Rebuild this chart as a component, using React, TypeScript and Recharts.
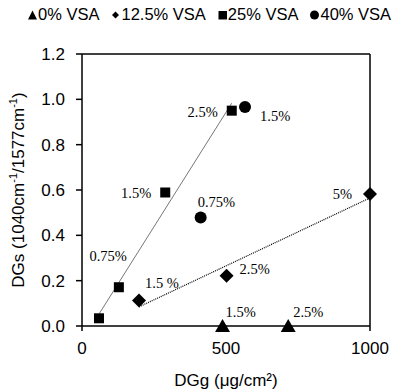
import {
  ScatterChart, Scatter, XAxis, YAxis, ReferenceLine,
} from "recharts";

// 0% VSA (triangles)
const triX = [488, 716];
const triY = [0, 0];
const triLabels = ["1.5%", "2.5%"];

// 12.5% VSA (diamonds)
const diaX = [198, 502, 1000];
const diaY = [0.112, 0.222, 0.582];
const diaLabels = ["1.5 %", "2.5%", "5%"];

// 25% VSA (squares)
const sqX = [59, 128, 289, 520];
const sqY = [0.034, 0.171, 0.589, 0.95];
const sqLabels = ["", "0.75%", "1.5%", "2.5%"];

// 40% VSA (circles)
const cirX = [412, 566];
const cirY = [0.479, 0.966];
const cirLabels = ["0.75%", "1.5%"];

const xTicks = [0, 500, 1000];
const yTicks = [0, 0.2, 0.4, 0.6, 0.8, 1.0, 1.2];

const toPoints = (xs: number[], ys: number[], labels: string[]) =>
  xs.map((x, i) => ({ x, y: ys[i], label: labels[i] }));

const triData = toPoints(triX, triY, triLabels);
const diaData = toPoints(diaX, diaY, diaLabels);
const sqData = toPoints(sqX, sqY, sqLabels);
const cirData = toPoints(cirX, cirY, cirLabels);

// least-squares trendline over a series, from its first to last x
function trend(xs: number[], ys: number[]) {
  const n = xs.length;
  const mx = xs.reduce((a, b) => a + b, 0) / n;
  const my = ys.reduce((a, b) => a + b, 0) / n;
  let sxy = 0, sxx = 0;
  xs.forEach((x, i) => { sxy += (x - mx) * (ys[i] - my); sxx += (x - mx) ** 2; });
  const k = sxy / sxx;
  const b = my - k * mx;
  const x0 = Math.min(...xs), x1 = Math.max(...xs);
  return [{ x: x0, y: k * x0 + b }, { x: x1, y: k * x1 + b }];
}

// label placement relative to the marker centre: [dx, dy, anchor]
const tri_off: [number, number, string][] = [[3, -9, "start"], [5, -9, "start"]];
const dia_off: [number, number, string][] = [[6, -13, "start"], [13, -2, "start"], [-18, 5, "end"]];
const sq_off: [number, number, string][] = [[0, 0, "start"], [8, -26, "end"], [-14, 6, "end"], [-14, 6, "end"]];
const cir_off: [number, number, string][] = [[-3, -10, "start"], [15, 14, "start"]];

const serif = "'Liberation Serif', 'Times New Roman', serif";
const sans = "'Liberation Sans', Arial, sans-serif";

const Label = ({ cx, cy, text, off }: any) =>
  text ? (
    <text x={cx + off[0]} y={cy + off[1]} textAnchor={off[2]} fontFamily={serif} fontSize={14.5} fill="#000">
      {text}
    </text>
  ) : null;

const mkShape = (kind: string, offs: [number, number, string][]) => (p: any) => {
  const { cx, cy, payload, index } = p;
  const off = offs[index] || [0, 0, "start"];
  let mark = null;
  if (kind === "tri") mark = <path d={`M${cx},${cy - 7}L${cx + 7.5},${cy + 6}L${cx - 7.5},${cy + 6}Z`} fill="#000" />;
  if (kind === "dia") mark = <path d={`M${cx},${cy - 7}L${cx + 7},${cy}L${cx},${cy + 7}L${cx - 7},${cy}Z`} fill="#000" />;
  if (kind === "sq") mark = <rect x={cx - 5} y={cy - 5} width={10} height={10} fill="#000" />;
  if (kind === "cir") mark = <circle cx={cx} cy={cy} r={6} fill="#000" />;
  return (
    <g>
      {mark}
      <Label cx={cx} cy={cy} text={payload.label} off={off} />
    </g>
  );
};

const LegendIcon = ({ kind }: { kind: string }) => (
  <svg width={9} height={10} style={{ marginRight: 1 }}>
    {kind === "tri" && <path d="M4.5,0.5L9,9.5L0,9.5Z" fill="#000" />}
    {kind === "dia" && <path d="M4.5,1.5L8,5L4.5,8.5L1,5Z" fill="#000" />}
    {kind === "sq" && <rect x={0.5} y={1} width={8.5} height={8.5} fill="#000" />}
    {kind === "cir" && <circle cx={4.5} cy={5} r={4.5} fill="#000" />}
  </svg>
);

const legendItems = [
  { kind: "tri", name: "0% VSA" },
  { kind: "dia", name: "12.5% VSA" },
  { kind: "sq", name: "25% VSA" },
  { kind: "cir", name: "40% VSA" },
];

export default function App() {
  const sqTrend = trend(sqX, sqY);
  const diaTrend = trend(diaX, diaY);
  const axisTick = { fill: "#000", fontSize: 17, fontFamily: sans };

  return (
    <div style={{ position: "relative", width: 395, height: 392, background: "#fff" }}>
      <style>{`body{margin:0}`}</style>
      <div
        style={{
          position: "absolute", left: 28, top: 5, display: "flex", alignItems: "center",
          fontFamily: sans, fontSize: 16.5, color: "#000", whiteSpace: "nowrap",
        }}
      >
        {legendItems.map((it) => (
          <span key={it.name} style={{ display: "flex", alignItems: "center", marginRight: 12 }}>
            <LegendIcon kind={it.kind} />
            {it.name}
          </span>
        ))}
      </div>
      <ScatterChart width={395} height={392} margin={{ top: 54, right: 25, bottom: 0, left: 0 }}>
        <XAxis
          type="number"
          dataKey="x"
          domain={[0, 1000]}
          ticks={xTicks}
          tick={axisTick}
          tickSize={5}
          tickMargin={11}
          axisLine={{ stroke: "#000", strokeWidth: 1.5 }}
          tickLine={{ stroke: "#000", strokeWidth: 1.5 }}
          height={66}
          label={({ viewBox }: any) => (
            <text x={viewBox.x + viewBox.width / 2} y={viewBox.y + 60} textAnchor="middle" fontFamily={sans} fontSize={17} fill="#000">
              DGg (μg/cm²)
            </text>
          )}
        />
        <YAxis
          type="number"
          dataKey="y"
          domain={[0, 1.2]}
          ticks={yTicks}
          tickFormatter={(v) => v.toFixed(1)}
          tick={axisTick}
          tickSize={6}
          tickMargin={11}
          axisLine={{ stroke: "#000", strokeWidth: 1.5 }}
          tickLine={{ stroke: "#000", strokeWidth: 1.5 }}
          width={82}
          label={({ viewBox }: any) => {
            const x = viewBox.x + 24;
            const y = viewBox.y + viewBox.height / 2;
            return (
              <text x={x} y={y} transform={`rotate(-90 ${x} ${y})`} textAnchor="middle" fontFamily={sans} fontSize={17} fill="#000">
                DGs (1040cm<tspan fontSize={11} dy={-7}>-1</tspan>
                <tspan dy={7}>/1577cm</tspan>
                <tspan fontSize={11} dy={-7}>-1</tspan>
                <tspan dy={7}>)</tspan>
              </text>
            );
          }}
        />
        <ReferenceLine y={1.2} stroke="#000" strokeWidth={1.5} />
        <ReferenceLine x={1000} stroke="#000" strokeWidth={1.5} />
        <ReferenceLine segment={sqTrend} stroke="#777" strokeWidth={1} />
        <ReferenceLine segment={diaTrend} stroke="#000" strokeWidth={1.2} strokeDasharray="1 1" />
        <Scatter name="0% VSA" data={triData} shape={mkShape("tri", tri_off)} isAnimationActive={false} />
        <Scatter name="12.5% VSA" data={diaData} shape={mkShape("dia", dia_off)} isAnimationActive={false} />
        <Scatter name="25% VSA" data={sqData} shape={mkShape("sq", sq_off)} isAnimationActive={false} />
        <Scatter name="40% VSA" data={cirData} shape={mkShape("cir", cir_off)} isAnimationActive={false} />
      </ScatterChart>
    </div>
  );
}
